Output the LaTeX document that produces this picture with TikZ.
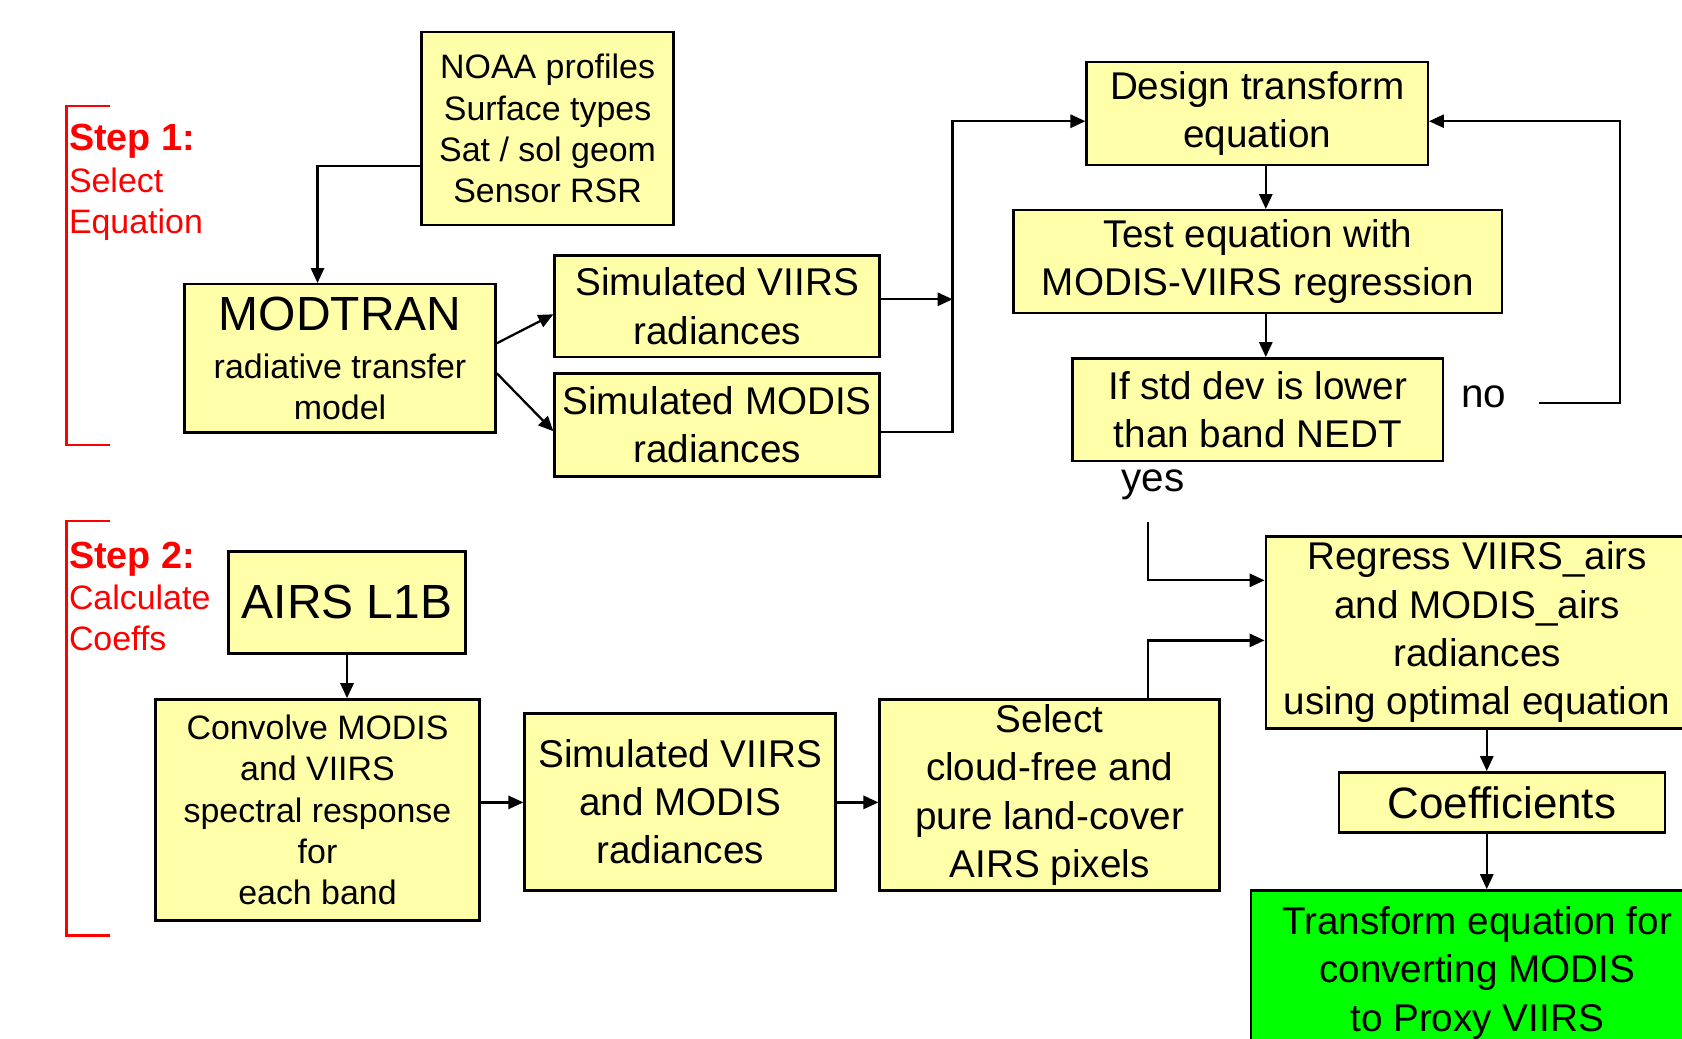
\documentclass[tikz,border=0pt]{standalone}
\usepackage{fontspec}
\setmainfont{Liberation Sans}
\usetikzlibrary{arrows.meta}
\definecolor{boxyellow}{RGB}{255,255,170}
\definecolor{boxgreen}{RGB}{0,255,0}
\newcommand{\unitpx}{0.021454cm}
\newcommand{\boxsmall}{\fontsize{19.3}{23.5}\selectfont}
\newcommand{\boxbig}{\fontsize{27.3}{33}\selectfont}
\begin{document}
\begin{tikzpicture}[x=\unitpx, y=-\unitpx,
		box/.style={draw, line width=1.4pt, fill=boxyellow, align=center, inner sep=0pt, font=\fontsize{22}{27.5}\selectfont},
		boxsize/.style 2 args={minimum width=#1*\unitpx, minimum height=#2*\unitpx},
		arr/.style={-{Triangle[length=8.5pt,width=7.5pt]}, line width=1.3pt},
		steptext/.style={text=red, align=left, anchor=west, inner sep=0pt, font=\boxsmall},
		lbl/.style={inner sep=0pt, font=\fontsize{23}{27}\selectfont}]
		\useasboundingbox (0,0) rectangle (1568,968);
		\clip (0,0) rectangle (1568,968);
		\draw[red, line width=1.3pt] (103,99) -| (62,415) -- (103,415);
		\draw[red, line width=1.3pt] (103,486) -| (62,872) -- (103,872);
		\node (step1) at (64,170) [steptext] {{\fontsize{21.5}{24.5}\selectfont\bfseries Step 1:}\\Select\\Equation};
		\node (step2) at (64,556) [steptext] {{\fontsize{21.5}{24.5}\selectfont\bfseries Step 2:}\\Calculate\\Coeffs};
		\node (noaa) at (510.5,120) [box, boxsize={235}{180}, font=\boxsmall] {NOAA profiles\\Surface types\\Sat / sol geom\\Sensor RSR};
		\node (modtran) at (317,334) [box, boxsize={290}{138}, font=\boxsmall] {{\boxbig MODTRAN}\\[4pt]radiative transfer\\model};
		\node (simv) at (668.5,285.5) [box, boxsize={303}{95}] {Simulated VIIRS\\radiances};
		\node (simm) at (668.5,396) [box, boxsize={303}{96}] {Simulated MODIS\\radiances};
		\node (design) at (1172,106) [box, boxsize={318}{96}] {Design transform\\equation};
		\node (test) at (1172.5,244) [box, boxsize={455}{96}] {Test equation with\\MODIS-VIIRS regression};
		\node (ifstd) at (1172.5,382) [box, boxsize={345}{96}] {If std dev is lower\\than band NEDT};
		\node (no) at (1383,370) [lbl] {no};
		\node (yes) at (1075,452) [lbl] {yes};
		\node (airs) at (323.5,561.5) [box, boxsize={221}{95}, font=\boxbig] {AIRS L1B};
		\node (convolve) at (296,755) [box, boxsize={302}{206}, font=\boxsmall] {Convolve MODIS\\and VIIRS\\spectral response\\for\\each band};
		\node (simvm) at (634,747.5) [box, boxsize={290}{165}] {Simulated VIIRS\\and MODIS\\radiances};
		\node (select) at (978.5,741) [box, boxsize={317}{178}] {Select\\cloud-free and\\pure land-cover\\AIRS pixels};
		\node (regress) at (1377,589.5) [box, boxsize={394}{179}] {Regress VIIRS\_airs\\and MODIS\_airs\\radiances\\using optimal equation};
		\node (coeff) at (1400,748) [box, boxsize={304}{56}, font=\fontsize{25}{30}\selectfont] {Coefficients};
		\node (final) at (1377,907) [box, fill=boxgreen, boxsize={422}{154}] {Transform equation for\\converting MODIS\\to Proxy VIIRS};
		\coordinate (join) at (888,279);
		\coordinate (nostart) at (1435,376);
		\coordinate (yesstart) at (1070,487);
		\draw[arr] (noaa.west |- 0,155) -| (296,0 |- modtran.north);
		\draw[arr] (modtran.east |- 0,320) -- (simv.west |- 0,293);
		\draw[arr] (modtran.east |- 0,348) -- (simm.west |- 0,402);
		\draw[arr] (simv.east |- join) -- (join);
		\draw[arr] (simm.east |- 0,403) -| (join) |- (design.west |- 0,113);
		\draw[arr] (design.south -| 1180,0) -- (test.north -| 1180,0);
		\draw[arr] (test.south -| 1180,0) -- (ifstd.north -| 1180,0);
		\draw[arr] (nostart) -| (1510,113) -- (design.east |- 0,113);
		\draw[arr] (yesstart) |- (regress.west |- 0,541);
		\draw[arr] (select.north -| 1070,0) |- (regress.west |- 0,597);
		\draw[arr] (airs.south) -- (airs.south |- convolve.north);
		\draw[arr] (convolve.east |- 0,748) -- (simvm.west |- 0,748);
		\draw[arr] (simvm.east |- 0,748) -- (select.west |- 0,748);
		\draw[arr] (regress.south -| 1386,0) -- (coeff.north -| 1386,0);
		\draw[arr] (coeff.south -| 1386,0) -- (final.north -| 1386,0);
	\end{tikzpicture}
\end{document}
